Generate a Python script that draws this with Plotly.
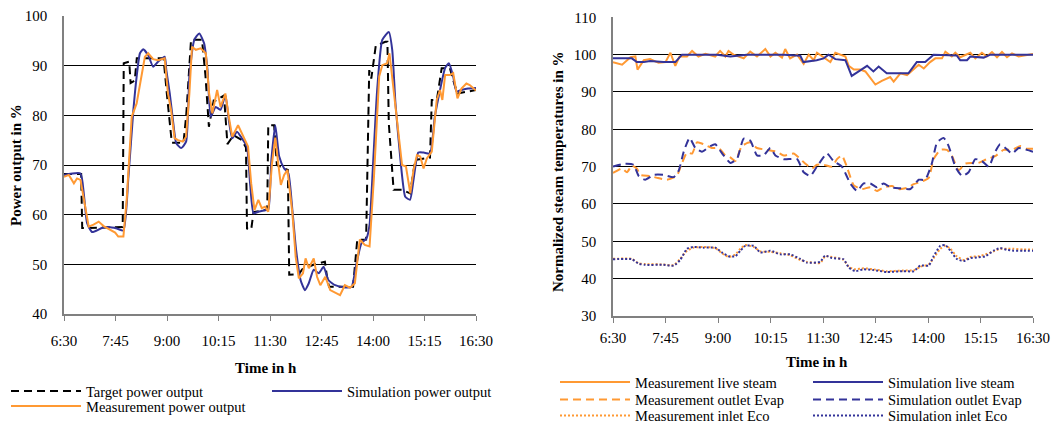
import plotly.graph_objects as go

# ---------------- shared axis ticks ----------------
TICK_MIN = [0, 75, 150, 225, 300, 375, 450, 525, 600]
TICK_TEXT = ["6:30", "7:45", "9:00", "10:15", "11:30", "12:45", "14:00", "15:15", "16:30"]

# ---------------- left chart: power output (minutes after 6:30, %) ----------------
target_t = [0, 25, 26.5, 85.5, 87, 95, 97, 103, 106, 145, 150, 157, 174, 178, 185, 201, 206, 211,
            218, 221, 233, 238, 247, 259, 265, 266.5, 272.6, 276, 296, 297.5, 306, 310, 326, 328,
            342, 347, 365, 380, 383, 386, 421, 427, 440, 444.5, 447.5, 454, 468, 471, 473, 480,
            492, 504, 511.5, 533, 535.6, 543, 550, 562, 567, 573, 600]
target_v = [68.2, 68.2, 57.3, 57.5, 90.5, 90.8, 86.5, 87, 91.5, 91.5, 84, 74.5, 74.5, 80, 95.2, 95.2, 88, 77.7,
            83, 83, 84, 74.2, 76, 75, 73.5, 57.2, 57, 60.5, 61, 78, 78, 70, 69, 47.9,
            48, 49, 50, 50.5, 47.5, 45.5, 45.5, 54.9, 55, 89.1, 87.4, 94, 94.8, 94.8, 78.4, 65,
            65, 64.3, 71, 71.5, 83.1, 83.1, 89.5, 89.5, 87, 84.4, 85.1]

sim_p_t = [0, 24, 29, 33.7, 41, 55, 65, 77, 86.5, 93.8, 101, 105.8, 110.6, 115.4, 122.6, 129.8, 137,
           146.6, 149, 154, 158.6, 163.4, 170.6, 177.8, 182.6, 189.8, 197, 204, 209, 213.7, 221, 228,
           235, 240, 245, 252, 259, 266.4, 271, 276, 283, 292.7, 297.5, 302, 307.7, 313.4, 320.6,
           326.8, 332.6, 338, 344.6, 350.8, 356.5, 363.7, 371, 378, 385.3, 394.9, 407, 418.8, 424.6,
           433, 440.4, 445, 450, 456, 463.5, 473, 478, 482.7, 490, 497, 504, 509, 516, 523.6, 533,
           540, 547.6, 555, 560.6, 566.8, 571.6, 578.8, 588.5, 600]
sim_p_v = [68, 68.3, 64, 58.3, 56.5, 57.3, 57.5, 57.2, 56.8, 67.6, 81, 87.8, 92.5, 93.3, 92.1, 89.8, 90.8,
           91.8, 89.1, 84.4, 79.1, 74.4, 73.4, 74.7, 87.8, 95.2, 96.5, 94.5, 89.1, 79.7, 81.7, 81.1,
           84.1, 79.1, 75.4, 76.7, 75.4, 73.7, 66.3, 60.3, 60.6, 60.9, 61, 71, 78, 71.7, 69.3,
           68.3, 60.9, 52.9, 46.8, 44.8, 46.2, 48.9, 48.2, 49.5, 46.8, 45.8, 45.4, 45.5, 49.2,
           54.2, 55.2, 58, 70, 85, 95.2, 96.8, 93.2, 82.4, 71, 63.6, 63, 67, 72.5, 72.5, 72.3,
           79.7, 85.1, 89.5, 90.5, 87.8, 84.8, 85.1, 85.4, 85.5]

meas_p_t = [0, 7, 14.4, 19, 24, 31, 36, 43, 50.5, 57.7, 65, 74.5, 79, 86.5, 91.3, 98.6, 105.8, 110.6,
            117.8, 122.6, 129.8, 137, 146.6, 151.4, 156, 161, 166, 173, 177.8, 182.6, 186.4, 192, 199,
            206.5, 211.3, 216, 223, 228, 235, 240, 245, 253.5, 261.6, 268, 272.6, 277.4, 283, 288,
            292.7, 297.5, 302.9, 307.7, 312.5, 315.8, 320.6, 325.4, 332.6, 337.4, 342, 348, 351.8,
            356.5, 363.7, 368.5, 373.3, 380.5, 387.7, 395, 402, 409, 416.4, 423.6, 430.8, 438, 445,
            451.4, 455, 459, 463.5, 470.7, 474, 478, 485, 492.3, 498, 504.3, 509, 514, 518.8, 523.6,
            528.4, 535.6, 542.8, 547.6, 551, 555, 562, 566.8, 573, 578.8, 586, 590.9, 600]
meas_p_v = [67.6, 68, 66.3, 67.3, 67, 61, 57.6, 58, 58.6, 57.7, 57.2, 56.4, 55.6, 55.6, 63, 79.7, 82.4, 86.4,
            91.8, 92.5, 91.3, 91.1, 91.5, 84.4, 81, 75.4, 75, 74.7, 75.7, 84.4, 93.8, 93.2, 93.5,
            92.5, 84.4, 80.4, 85.1, 81.7, 84.4, 79.7, 75.7, 78, 75.7, 73.7, 66.3, 60.9, 63, 61.3,
            61.6, 60.6, 70.3, 75.5, 69.7, 66, 68, 69, 60.3, 51.5, 47.2, 48.2, 51.2,
            49.2, 51.2, 47.5, 45.8, 47.5, 44.8, 44.2, 43.8, 45.8, 45.3, 46.2, 55, 53.9, 53.6,
            67.6, 78.4, 87.8, 90.1, 90.5, 92.5, 87.8, 79, 70, 69.7, 64.3, 69, 72, 71.7, 69.3,
            71.3, 72.7, 83.1, 85.1, 83.1, 88.1, 88.1, 88.5, 83.4, 85.4, 86.4, 86.1, 85]

# ---------------- right chart: normalized steam temperatures (%) ----------------
sim_live_t = [0, 27, 34, 44, 53, 72, 89, 98.6, 120, 148.6, 167.6, 191, 215, 244, 267.6, 272, 291, 301,
              308, 317.6, 332, 336.7, 341, 351, 363, 372, 379.5, 391, 422, 434, 446, 458, 491, 496,
              505.7, 510.5, 529.5, 539, 600]
sim_live_v = [99, 99, 98, 98, 98.3, 98, 98, 100, 100, 100, 99.5, 100, 100, 100, 99.7, 98, 98.5, 99,
              100, 98.8, 98.5, 96, 94.3, 95.5, 97, 95.5, 96.8, 95, 95, 98, 98, 100, 99.8, 98.5,
              98.5, 99.5, 99.2, 100, 100]

meas_live_t = [0, 13, 25, 32, 35, 44, 53, 65, 75, 82, 89, 95, 105.7, 113, 122, 132, 146, 153, 160.5,
               165, 172, 186.7, 196, 205.7, 217.6, 225, 232, 241.4, 246, 253, 262.9, 272.4, 279.5,
               286.7, 291.4, 301, 310.5, 317.6, 332, 336.7, 344, 353, 360.5, 374.8, 384, 396, 401,
               410.5, 420, 436.7, 444, 453, 460.5, 470, 474.8, 484, 489, 496, 510.5, 517.6, 527, 534,
               541.4, 548.6, 555.7, 562.9, 570, 579.5, 591.4, 600]
meas_live_v = [98, 97.3, 99.3, 99.5, 96, 98.5, 98.8, 97.8, 98, 100.5, 97, 99.5, 99.5, 101, 99.5, 100.2,
               99.5, 101, 99.5, 101, 100, 99, 100.8, 99.5, 101.5, 99.5, 100.5, 99.2, 101.5, 99, 100,
               97.5, 100, 98.5, 100.5, 99.3, 98, 100.5, 99.5, 97, 96, 96, 95.5, 92, 93, 94, 92.8,
               95, 94.5, 97.3, 96.3, 98, 99, 99, 100.8, 99.5, 100.5, 99.3, 100.5, 99, 100.5, 99.5,
               100.7, 99.3, 100.7, 99.3, 100.3, 99.5, 100, 100.2]

sim_evap_t = [0, 17.6, 29.5, 36.7, 46, 58, 72, 86.7, 94, 101, 109.5, 117.6, 127, 139, 146, 158, 167.6,
              177, 186.7, 196, 205.7, 215, 224.8, 232, 244, 263, 272.4, 281.9, 291.4, 305.7, 315, 327,
              339, 348.6, 358, 367.6, 377, 386.7, 396, 410.5, 424.8, 436.7, 446, 455.7, 462.9, 472.4,
              479.5, 489, 498.6, 508, 517.6, 527, 536.7, 546, 553, 560.5, 570, 579.5, 591.4, 600]
sim_evap_v = [70, 70.8, 70.5, 67.5, 66.5, 67.8, 67.8, 67.2, 69, 74, 77.7, 75, 74, 75.5, 76, 73, 71,
              72, 77.5, 77, 73, 73, 75, 73, 72, 72, 68.5, 67.5, 70, 73.5, 71.5, 70,
              65.5, 63.5, 65.5, 65.5, 64.5, 65.5, 64.5, 64.2, 64, 66.5, 66.5, 71, 76.5, 77.7,
              75.5, 70, 67.5, 68.5, 72, 71.5, 70, 74, 76, 75, 73.5, 75, 74.5, 74]

meas_evap_t = [0, 13, 20, 27, 34, 39, 53, 63, 77, 91, 98.6, 105.7, 113, 120, 129.5, 141, 151, 160.5,
               167.6, 174.8, 184, 196, 205.7, 220, 234, 244, 258, 265, 274.8, 284, 291.4, 301, 313,
               320, 327, 334, 344, 355.7, 367.6, 377, 386.7, 398.6, 408, 420, 429.5, 441, 451, 458,
               467.6, 477, 484, 493.8, 503, 512.9, 522, 534, 546, 558, 570, 582, 591, 600]
meas_evap_v = [68.3, 69.5, 68.5, 70.3, 69.5, 67.8, 67.5, 67, 66.5, 67.5, 71, 73.8, 73.5, 76.5, 76, 75,
               75, 73, 72.5, 71.5, 75.5, 76.5, 75, 74.5, 74, 73, 73.5, 72.5, 70.8, 69.5, 70.5, 70.5,
               70, 72, 73, 70, 65, 64, 64.5, 63.5, 64.5, 64.8, 64, 64.3, 65.3, 66, 67, 72,
               74.5, 74.5, 73, 69, 70.8, 71, 71, 72, 72.8, 74.5, 74.5, 75.5, 74.8, 74.8]

sim_eco_t = [0, 27, 36.7, 46, 72, 86.7, 96, 105.7, 115, 129.5, 146, 155.7, 165, 174.8, 182, 189, 201,
             210.5, 224.8, 239, 253, 267.6, 277, 296, 303, 312.9, 329.5, 336.7, 346, 358, 372, 391,
             415, 429.5, 439, 451, 458, 467.6, 474.8, 482, 491, 501, 510.5, 522, 531.9, 543.8, 553,
             562.9, 572.4, 586.7, 600]
sim_eco_v = [45.2, 45.2, 44, 43.7, 43.7, 43.5, 45, 48, 48.5, 48.3, 48.3, 47, 46, 46, 47.5, 48.8, 48.8,
             47, 47.5, 46.5, 46.5, 45.3, 44.3, 44.5, 46.2, 45.5, 45.2, 43, 42, 42.5, 42.3, 41.8,
             42, 42, 43.5, 43.5, 46, 48.8, 49, 47.5, 45.3, 44.7, 45.5, 45.7, 46, 47.5, 48.2,
             47.7, 47.5, 47.5, 47.5]

meas_eco_t = sim_eco_t
meas_eco_v = [45.3, 45.3, 44.1, 43.9, 43.8, 43.6, 45.3, 47.5, 48.3, 48.5, 48.2, 46.8, 45.8, 46.5, 48,
              49, 48.5, 47.3, 47.2, 46.8, 46.3, 45, 44.5, 44.2, 46, 45.8, 45, 43.2, 42.5, 42.8, 42.5,
              42, 42.2, 42.2, 43.2, 43.8, 45.5, 48, 48.8, 48, 46, 45, 45.8, 46, 46.5, 47.3, 48,
              48, 48, 47.8, 47.8]

# ---------------- styling ----------------
ORANGE = "#FF9933"
BLUE = "#333399"
FONT = "Liberation Serif, Times New Roman, serif"
W, H = 1059, 423

fig = go.Figure()

def add(x, y, name, color, dash, xa, ya, legend, shape="linear"):
    fig.add_trace(go.Scatter(x=x, y=y, name=name, mode="lines",
                             line=dict(color=color, width=2, dash=dash, shape=shape,
                                       smoothing=0.5 if shape == "spline" else None),
                             xaxis=xa, yaxis=ya, legend=legend, hoverinfo="skip"))

add(target_t, target_v, "Target power output", "black", "8px,5px", "x", "y", "legend")
add(sim_p_t, sim_p_v, "Simulation power output", BLUE, "solid", "x", "y", "legend", "spline")
add(meas_p_t, meas_p_v, "Measurement power output", ORANGE, "solid", "x", "y", "legend2")

add(meas_live_t, meas_live_v, "Measurement live steam", ORANGE, "solid", "x2", "y2", "legend3")
add(sim_live_t, sim_live_v, "Simulation live steam", BLUE, "solid", "x2", "y2", "legend3")
add(meas_evap_t, meas_evap_v, "Measurement outlet Evap", ORANGE, "8px,5px", "x2", "y2", "legend4", "spline")
add(sim_evap_t, sim_evap_v, "Simulation outlet Evap", BLUE, "8px,5px", "x2", "y2", "legend4", "spline")
add(meas_eco_t, meas_eco_v, "Measurement inlet Eco", ORANGE, "2px,2px", "x2", "y2", "legend5", "spline")
add(sim_eco_t, sim_eco_v, "Simulation inlet Eco", BLUE, "2px,2px", "x2", "y2", "legend5", "spline")

def px_x(v):
    return v / W

def px_y(v):
    return 1 - v / H

xcommon = dict(range=[0, 600], tickvals=TICK_MIN, ticktext=TICK_TEXT, ticks="outside", ticklen=5,
               tickcolor="#808080", showline=True, linecolor="#808080", linewidth=1.5,
               showgrid=False, zeroline=False, tickangle=0, automargin=False,
               tickfont=dict(family=FONT, size=15, color="black"))
ycommon = dict(dtick=10, showgrid=True, gridcolor="black", gridwidth=1, showline=True,
               linecolor="#808080", linewidth=1.5, ticks="", zeroline=False, automargin=False,
               tickfont=dict(family=FONT, size=15, color="black"), ticklabelstandoff=12)

leg = dict(orientation="h", xanchor="left", yanchor="middle", bgcolor="rgba(0,0,0,0)",
           borderwidth=0, itemwidth=70, entrywidthmode="pixels",
           font=dict(family=FONT, size=14.5, color="black"), itemclick=False)

title_font = dict(family=FONT, size=15, color="black")

fig.update_layout(
    width=W, height=H, margin=dict(l=0, r=0, t=0, b=0, autoexpand=False),
    paper_bgcolor="white", plot_bgcolor="white",
    font=dict(family=FONT, size=15, color="black"),
    xaxis=dict(domain=[px_x(64), px_x(476)], anchor="y", ticklabelstandoff=7, **xcommon),
    yaxis=dict(domain=[px_y(314), px_y(16)], range=[40, 100], anchor="x", **ycommon),
    xaxis2=dict(domain=[px_x(613), px_x(1033)], anchor="y2", ticklabelstandoff=2, **xcommon),
    yaxis2=dict(domain=[px_y(316), px_y(17.3)], range=[30, 110], anchor="x2", **ycommon),
    legend=dict(x=px_x(6), y=px_y(391), entrywidth=176, **leg),
    legend2=dict(x=px_x(6), y=px_y(406), entrywidth=176, **leg),
    legend3=dict(x=px_x(555), y=px_y(382), entrywidth=168, **leg),
    legend4=dict(x=px_x(555), y=px_y(399.5), entrywidth=168, **leg),
    legend5=dict(x=px_x(555), y=px_y(415.5), entrywidth=168, **leg),
    annotations=[
        dict(text="<b>Power output in %</b>", x=px_x(16), y=px_y(165), xref="paper", yref="paper",
             xanchor="center", yanchor="middle", textangle=-90, showarrow=False, font=title_font),
        dict(text="<b>Normalized steam temperatures in %</b>", x=px_x(558), y=px_y(172),
             xref="paper", yref="paper", xanchor="center", yanchor="middle", textangle=-90,
             showarrow=False, font=title_font),
        dict(text="<b>Time in h</b>", x=px_x(266), y=px_y(368), xref="paper", yref="paper",
             xanchor="center", yanchor="middle", showarrow=False, font=title_font),
        dict(text="<b>Time in h</b>", x=px_x(817), y=px_y(362), xref="paper", yref="paper",
             xanchor="center", yanchor="middle", showarrow=False, font=title_font),
    ],
)

fig.write_html("out.html", config={"displayModeBar": False},
               post_script="document.body.style.margin='0px';document.body.style.overflow='hidden';")
